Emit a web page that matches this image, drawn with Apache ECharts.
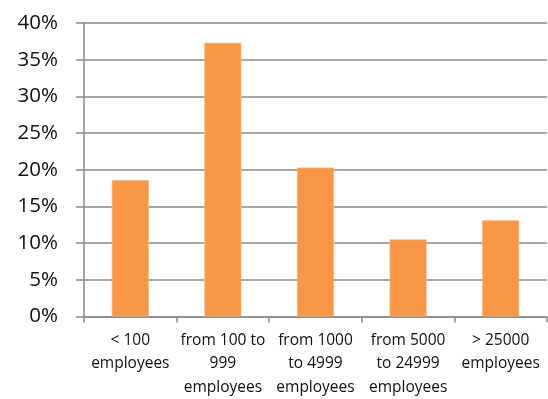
<!DOCTYPE html>
<html>
<head>
<meta charset="utf-8">
<script src="https://cdn.jsdelivr.net/npm/echarts@6/dist/echarts.min.js"></script>
<style>
  html, body { margin: 0; padding: 0; background: #fff; }
  #chart { width: 548px; height: 399px; }
</style>
</head>
<body>
<div id="chart"></div>
<script>
// Share of companies by size class (percent)
const categories = [
  '< 100\nemployees',
  'from 100 to\n999\nemployees',
  'from 1000\nto 4999\nemployees',
  'from 5000\nto 24999\nemployees',
  '> 25000\nemployees'
];
const shares = [18.6, 37.3, 20.3, 10.5, 13.1];
const yTicks = [0, 5, 10, 15, 20, 25, 30, 35, 40];

const gray = '#8a8a8a';
const chart = echarts.init(document.getElementById('chart'), null, { renderer: 'canvas' });
chart.setOption({
  animation: false,
  grid: { left: 84, right: 1, top: 23, bottom: 78 },
  xAxis: {
    type: 'category',
    data: categories,
    axisLine: { lineStyle: { color: gray, width: 1.5 } },
    axisTick: { show: true, length: 6, lineStyle: { color: gray, width: 1.5 } },
    axisLabel: {
      color: '#111', fontFamily: 'Open Sans', fontSize: 15.5,
      lineHeight: 23.5, margin: 12, interval: 0
    }
  },
  yAxis: {
    type: 'value',
    min: yTicks[0],
    max: yTicks[yTicks.length - 1],
    interval: 5,
    axisLine: { show: true, lineStyle: { color: gray, width: 1.5 } },
    axisTick: { show: true, length: 8, lineStyle: { color: gray, width: 1.5 } },
    splitLine: { lineStyle: { color: gray, width: 1.5 } },
    axisLabel: {
      color: '#111', fontFamily: 'Open Sans', fontSize: 20.5, margin: 26,
      formatter: v => v + '%'
    }
  },
  series: [{
    type: 'bar',
    data: shares,
    barWidth: '40%',
    itemStyle: { color: '#f79646', borderColor: '#fbb27a', borderWidth: 0.8 }
  }]
});
</script>
</body>
</html>
